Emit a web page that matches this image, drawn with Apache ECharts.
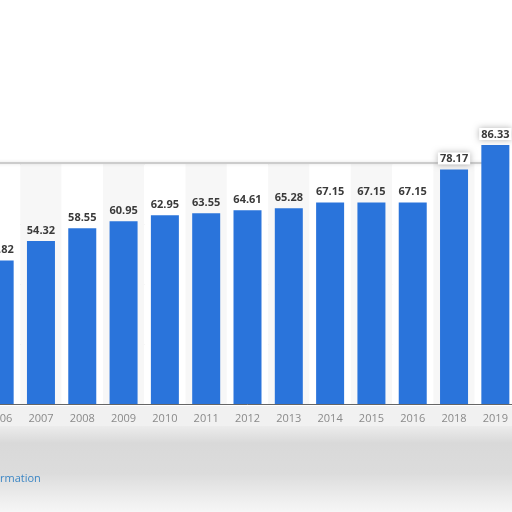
<!DOCTYPE html>
<html>
<head>
<meta charset="utf-8">
<script src="https://cdn.jsdelivr.net/npm/echarts@6/dist/echarts.min.js"></script>
<style>
  html, body { margin: 0; padding: 0; background: #fff; overflow: hidden; width: 512px; height: 512px; }
  /* the screenshot is cropped: the first bar sits right on the left edge */
  #chart { position: absolute; left: -21px; top: 0; width: 537px; height: 512px; }
</style>
</head>
<body>
<div id="chart"></div>
<script>
const years = ["2006", "2007", "2008", "2009", "2010", "2011", "2012", "2013", "2014", "2015", "2016", "2018", "2019"];
const values = [47.82, 54.32, 58.55, 60.95, 62.95, 63.55, 64.61, 65.28, 67.15, 67.15, 67.15, 78.17, 86.33];
// the last two bars stick out above the chart box in the screenshot
const raisedYears = ["2018", "2019"];

const OFF = 21; // page x -> chart x

const chart = echarts.init(document.getElementById("chart"), null, { renderer: "canvas" });

const barData = values.map((v, i) => {
    if (!raisedYears.includes(years[i])) return v;
    return {
        value: v,
        label: {
            backgroundColor: "#fff",
            padding: [1, 2, 0, 2],
            shadowColor: "rgba(0,0,0,0.3)",
            shadowBlur: 6,
        },
    };
});

chart.setOption({
    animation: false,
    backgroundColor: "#fff",
    grid: { left: 0, right: 0, top: 164, bottom: 108 },
    xAxis: {
        type: "category",
        data: years,
        axisTick: { show: false },
        axisLine: { lineStyle: { color: "#666", width: 1 } },
        axisLabel: {
            color: "#8a8a8a",
            fontFamily: "Open Sans, sans-serif",
            fontSize: 11,
            margin: 9,
        },
        splitArea: { show: true, areaStyle: { color: ["#ffffff", "#f7f7f7"] } },
    },
    yAxis: {
        type: "value",
        min: 0,
        max: 80,
        interval: 20,
        axisLabel: { show: false },
        axisLine: { show: false },
        axisTick: { show: false },
        splitLine: { lineStyle: { color: "#d4d4d4", type: [2, 2] } },
    },
    series: [
        {
            type: "bar",
            data: barData,
            clip: false,
            barWidth: 28,
            itemStyle: { color: "#2a74db" },
            label: {
                show: true,
                position: "top",
                distance: 5,
                color: "#3a3a3a",
                fontFamily: "Open Sans, sans-serif",
                fontWeight: "bold",
                fontSize: 11,
            },
            z: 3,
        },
    ],
    graphic: [
        // box top border
        {
            type: "rect",
            shape: { x: OFF - 2, y: 162, width: 510, height: 2 },
            style: { fill: "#cccccc", shadowColor: "rgba(0,0,0,0.12)", shadowBlur: 3 },
            z: 1,
        },
        // blurred footer area
        {
            type: "rect",
            shape: { x: 0, y: 426, width: 537, height: 86 },
            style: {
                fill: new echarts.graphic.LinearGradient(0, 0, 0, 1, [
                    { offset: 0, color: "#ececec" },
                    { offset: 0.2, color: "#d9d9d9" },
                    { offset: 0.55, color: "#dcdcdc" },
                    { offset: 0.85, color: "#eeeeee" },
                    { offset: 1, color: "#f6f6f6" },
                ]),
            },
            z: 0,
        },
        {
            type: "rect",
            shape: { x: 0, y: 406, width: 537, height: 22 },
            style: { fill: "#f1f1f1" },
            z: -1,
        },
        {
            type: "text",
            x: OFF,
            y: 473,
            style: {
                text: "rmation",
                fill: "#3c86c4",
                font: "11px Open Sans, sans-serif",
            },
            z: 5,
        },
    ],
});
</script>
</body>
</html>
